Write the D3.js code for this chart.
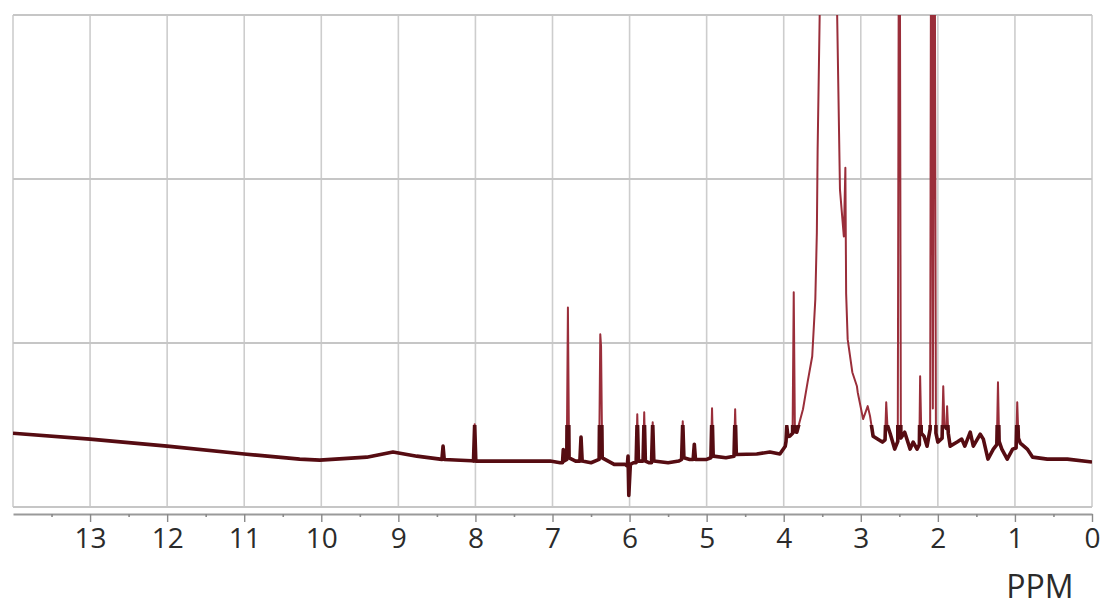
<!DOCTYPE html>
<html>
<head>
<meta charset="utf-8">
<script src="https://cdn.jsdelivr.net/npm/d3@7"></script>
<style>
  body { margin: 0; background: #fff; }
  svg { display: block; }
  .tick text { font-family: "Open Sans", "DejaVu Sans", sans-serif; fill: #2b2b2b; }
</style>
</head>
<body>
<div id="chart"></div>
<script>
// Chemical shift (ppm) of each point, left to right
const ppm = [
  14.0, 13.0, 12.0, 11.0, 10.28, 10.02, 9.41, 9.07, 8.76, 8.46,
  8.435, 8.42, 8.405, 8.05, 8.025, 8.01, 7.995, 7.51, 7.03, 6.90,
  6.87, 6.86, 6.85, 6.815, 6.80, 6.785, 6.70, 6.645, 6.63, 6.615,
  6.50, 6.395, 6.38, 6.37, 6.355, 6.20, 6.06, 6.03, 6.02, 6.01,
  5.99, 5.95, 5.915, 5.90, 5.885, 5.86, 5.825, 5.81, 5.795, 5.75,
  5.715, 5.70, 5.685, 5.50, 5.36, 5.325, 5.31, 5.295, 5.22, 5.175,
  5.16, 5.145, 5.00, 4.945, 4.93, 4.915, 4.75, 4.645, 4.63, 4.615,
  4.35, 4.18, 4.05, 3.98, 3.97, 3.96, 3.945, 3.92, 3.885, 3.87,
  3.855, 3.83, 3.75, 3.69, 3.63, 3.59, 3.57, 3.56, 3.53, 3.42,
  3.31, 3.27, 3.22, 3.20, 3.19, 3.17, 3.11, 3.05, 3.04, 2.97,
  2.91, 2.88, 2.84, 2.72, 2.685, 2.67, 2.655, 2.62, 2.56, 2.52,
  2.50, 2.48, 2.43, 2.36, 2.32, 2.27, 2.24, 2.23, 2.215, 2.18,
  2.14, 2.10, 2.085, 2.065, 2.045, 2.025, 2.00, 1.945, 1.93, 1.915,
  1.89, 1.88, 1.865, 1.84, 1.75, 1.69, 1.65, 1.58, 1.54, 1.45,
  1.41, 1.35, 1.28, 1.235, 1.22, 1.205, 1.17, 1.10, 1.03, 0.985,
  0.97, 0.955, 0.93, 0.84, 0.77, 0.58, 0.32, 0.0
];

// Signal intensity at each of those shifts (grid lines at 1, 2, 3; above 3 is off scale)
const intensity = [
  0.45, 0.414, 0.371, 0.323, 0.292, 0.286, 0.304, 0.335, 0.31, 0.292,
  0.29, 0.371, 0.29, 0.282, 0.28, 0.505, 0.28, 0.28, 0.28, 0.27,
  0.27, 0.35, 0.28, 0.29, 1.217, 0.30, 0.28, 0.28, 0.426, 0.28,
  0.27, 0.29, 1.053, 0.98, 0.30, 0.26, 0.26, 0.25, 0.31, 0.07,
  0.26, 0.27, 0.27, 0.566, 0.28, 0.28, 0.28, 0.578, 0.28, 0.27,
  0.27, 0.517, 0.28, 0.27, 0.28, 0.29, 0.523, 0.30, 0.29, 0.29,
  0.383, 0.29, 0.29, 0.30, 0.602, 0.31, 0.30, 0.31, 0.596, 0.32,
  0.323, 0.335, 0.323, 0.37, 0.40, 0.493, 0.43, 0.432, 0.45, 1.31,
  0.46, 0.456, 0.596, 0.761, 0.919, 1.266, 1.673, 2.178, 3.1, 8.0,
  3.1, 1.935, 1.65, 2.069, 1.30, 1.022, 0.822, 0.736, 0.70, 0.536,
  0.615, 0.554, 0.432, 0.396, 0.41, 0.639, 0.50, 0.45, 0.353, 0.40,
  5.0, 0.42, 0.456, 0.353, 0.396, 0.353, 0.38, 0.797, 0.45, 0.432,
  0.371, 0.475, 4.5, 0.6, 4.5, 0.45, 0.396, 0.42, 0.736, 0.50,
  0.48, 0.615, 0.45, 0.371, 0.396, 0.414, 0.371, 0.456, 0.371, 0.444,
  0.414, 0.292, 0.353, 0.38, 0.761, 0.40, 0.353, 0.292, 0.353, 0.36,
  0.639, 0.42, 0.39, 0.353, 0.304, 0.292, 0.292, 0.274
];

const ppmTicks = [13, 12, 11, 10, 9, 8, 7, 6, 5, 4, 3, 2, 1, 0];
const minorTicks = [13.5, 12.5, 11.5, 10.5, 9.5, 8.5, 7.5, 6.5, 5.5, 4.5, 3.5, 2.5, 1.5, 0.5];
const gridLevels = [0, 1, 2, 3];
const axisTitle = "PPM";

const W = 1106, H = 610;

const svg = d3.select("#chart")
    .append("svg")
    .attr("width", W)
    .attr("height", H);

const x = d3.scaleLinear().domain([14, 0]).range([13, 1092]);
const y = d3.scaleLinear().domain([0, 3]).range([507, 15]);

// grid
svg.append("g")
    .selectAll("line")
    .data([14].concat(ppmTicks))
    .enter()
    .append("line")
    .attr("x1", d => x(d)).attr("x2", d => x(d))
    .attr("y1", y(0)).attr("y2", y(3))
    .attr("stroke", "#cdcdcd")
    .attr("stroke-width", 1.6);

svg.append("g")
    .selectAll("line")
    .data(gridLevels)
    .enter()
    .append("line")
    .attr("x1", x(14)).attr("x2", x(0))
    .attr("y1", d => y(d)).attr("y2", d => y(d))
    .attr("stroke", "#c6c6c6")
    .attr("stroke-width", 1.8);

// x axis
const axisY = 514;
const ax = svg.append("g")
    .attr("transform", "translate(0," + axisY + ")")
    .call(d3.axisBottom(x)
        .tickValues(ppmTicks)
        .tickSize(8)
        .tickSizeOuter(0)
        .tickPadding(6)
        .tickFormat(d3.format("d")));
ax.select(".domain").attr("stroke", "#9a9a9a").attr("stroke-width", 1.8);
ax.selectAll(".tick line").attr("stroke", "#8a8a8a").attr("stroke-width", 1.4);
ax.selectAll(".tick text").attr("font-size", 28);

svg.append("g")
    .attr("transform", "translate(0," + axisY + ")")
    .call(d3.axisBottom(x).tickValues(minorTicks).tickSize(3).tickFormat(""))
    .call(g => g.select(".domain").remove())
    .selectAll(".tick line").attr("stroke", "#8a8a8a").attr("stroke-width", 1.6);

svg.append("text")
    .attr("x", 1040)
    .attr("y", 598)
    .attr("text-anchor", "middle")
    .attr("font-family", "'Open Sans', 'DejaVu Sans', sans-serif")
    .attr("font-size", 32)
    .attr("fill", "#2b2b2b")
    .text(axisTitle);

// spectrum
svg.append("clipPath").attr("id", "plot")
    .append("rect")
    .attr("x", x(14)).attr("y", y(3))
    .attr("width", x(0) - x(14)).attr("height", y(0) - y(3) + 4);

// lower band where the noisy baseline reads as a thick dark trace
svg.append("clipPath").attr("id", "band")
    .append("rect")
    .attr("x", x(14)).attr("y", y(0.5))
    .attr("width", x(0) - x(14)).attr("height", y(0) - y(0.5) + 4);

const pts = ppm.map((p, i) => [p, intensity[i]]);
const line = d3.line().x(d => x(d[0])).y(d => y(d[1]));

svg.append("path")
    .datum(pts)
    .attr("clip-path", "url(#plot)")
    .attr("fill", "none")
    .attr("stroke", "#9a2e3a")
    .attr("stroke-width", 2)
    .attr("stroke-linejoin", "round")
    .attr("d", line);

svg.append("path")
    .datum(pts)
    .attr("clip-path", "url(#band)")
    .attr("fill", "none")
    .attr("stroke", "#560c12")
    .attr("stroke-width", 3.6)
    .attr("stroke-linejoin", "round")
    .attr("d", line);
</script>
</body>
</html>
